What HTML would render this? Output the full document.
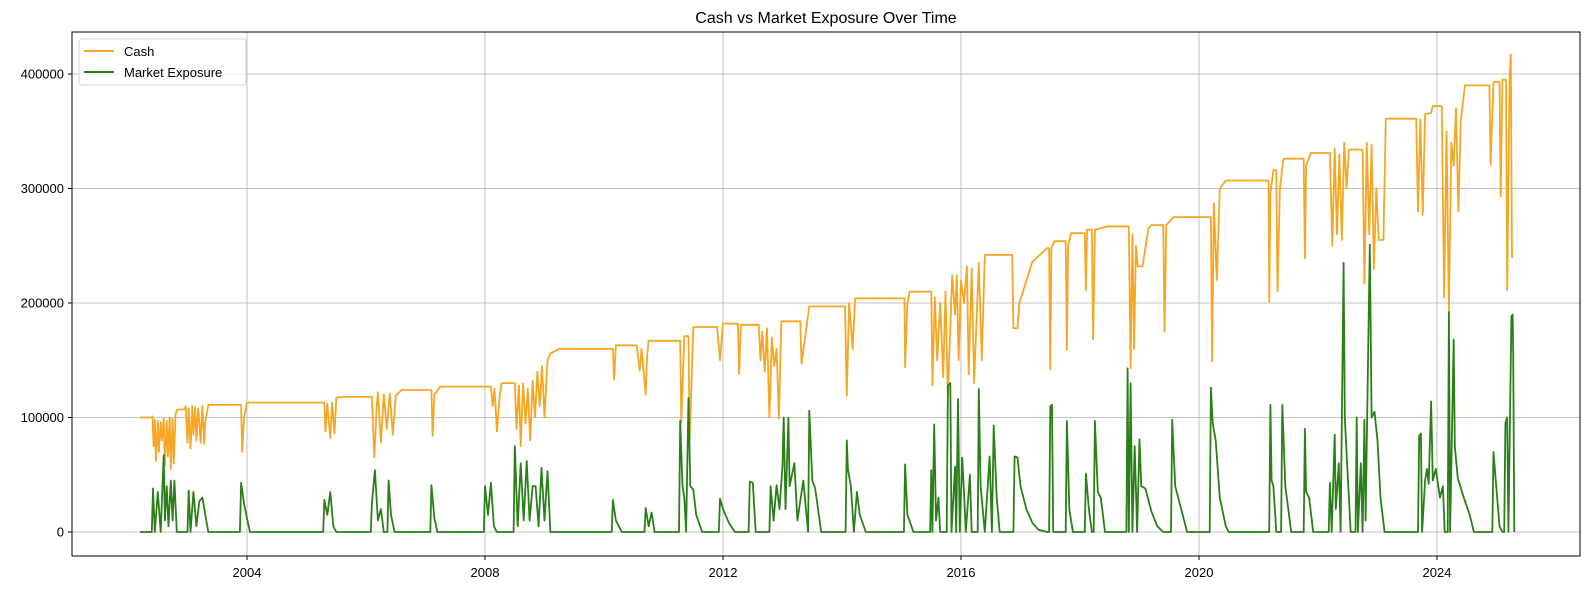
<!DOCTYPE html>
<html><head><meta charset="utf-8"><title>Cash vs Market Exposure Over Time</title>
<style>
html,body{margin:0;padding:0;background:#fff;}
svg{display:block;font-family:"Liberation Sans","DejaVu Sans",sans-serif;}
</style></head>
<body>
<svg id="chart" width="1589" height="590" viewBox="0 0 1589 590" xmlns="http://www.w3.org/2000/svg">
<rect x="0" y="0" width="1589" height="590" fill="#fff"/>
<text x="826" y="23" text-anchor="middle" font-size="16" fill="#000">Cash vs Market Exposure Over Time</text>
<g id="grid"></g>
<g id="series"></g>
<rect x="72" y="32" width="1508" height="524" fill="none" stroke="#000" stroke-width="1"/>
<g id="ticks"></g>
<g>
<rect x="79" y="39" width="167" height="46" rx="3" fill="#fff" fill-opacity="0.8" stroke="#d6d6d6"/>
<line x1="84" y1="51" x2="114" y2="51" stroke="#f5a623" stroke-width="2"/>
<text x="124" y="56" font-size="13">Cash</text>
<line x1="84" y1="72" x2="114" y2="72" stroke="#2a7f18" stroke-width="2"/>
<text x="124" y="77" font-size="13">Market Exposure</text>
</g>
</svg>
<script>
const xTicks = [2004, 2008, 2012, 2016, 2020, 2024];
const yTicks = [0, 100000, 200000, 300000, 400000];
// cash series: [year, value in thousands]
const cashSeries = [[2002.2,100],[2002.4,100],[2002.41,101],[2002.43,75],[2002.45,98],[2002.47,62],[2002.5,97],[2002.52,70],[2002.55,96],[2002.57,80],[2002.6,99],[2002.62,58],[2002.65,97],[2002.67,66],[2002.7,100],[2002.72,55],[2002.75,99],[2002.77,60],[2002.8,103],[2002.83,107],[2002.95,107],[2002.97,110],[2003.0,78],[2003.02,108],[2003.05,73],[2003.08,110],[2003.1,85],[2003.13,109],[2003.15,80],[2003.18,108],[2003.2,95],[2003.22,78],[2003.25,110],[2003.28,77],[2003.3,96],[2003.35,111],[2003.9,111],[2003.92,70],[2003.95,100],[2004.0,113],[2005.3,113],[2005.32,88],[2005.35,112],[2005.4,82],[2005.43,113],[2005.47,86],[2005.5,117],[2005.57,118],[2006.1,118],[2006.14,65],[2006.18,110],[2006.2,122],[2006.25,78],[2006.3,120],[2006.35,90],[2006.4,121],[2006.45,85],[2006.5,119],[2006.6,124],[2007.1,124],[2007.12,84],[2007.15,120],[2007.25,127],[2008.1,127],[2008.13,110],[2008.16,125],[2008.2,88],[2008.25,120],[2008.28,130],[2008.5,130],[2008.53,90],[2008.57,128],[2008.6,75],[2008.64,130],[2008.68,95],[2008.72,125],[2008.76,80],[2008.8,132],[2008.84,100],[2008.88,140],[2008.92,110],[2008.96,145],[2009.0,100],[2009.05,150],[2009.1,156],[2009.25,160],[2010.15,160],[2010.17,133],[2010.2,163],[2010.55,163],[2010.6,141],[2010.63,160],[2010.7,120],[2010.72,150],[2010.75,167],[2011.28,167],[2011.3,96],[2011.35,171],[2011.42,171],[2011.44,80],[2011.5,179],[2011.9,179],[2011.95,150],[2011.98,170],[2012.0,182],[2012.25,182],[2012.27,138],[2012.3,181],[2012.6,181],[2012.63,150],[2012.66,175],[2012.7,140],[2012.74,178],[2012.78,100],[2012.82,170],[2012.86,145],[2012.9,160],[2012.94,99],[2012.98,184],[2013.3,184],[2013.32,147],[2013.38,170],[2013.45,197],[2014.05,197],[2014.08,119],[2014.12,200],[2014.18,160],[2014.22,204],[2015.05,204],[2015.06,144],[2015.1,200],[2015.14,210],[2015.5,210],[2015.52,128],[2015.56,205],[2015.6,150],[2015.65,200],[2015.7,135],[2015.74,210],[2015.78,117],[2015.85,224],[2015.9,190],[2015.93,224],[2015.96,150],[2016.0,220],[2016.05,200],[2016.1,232],[2016.13,138],[2016.18,230],[2016.22,130],[2016.3,235],[2016.35,150],[2016.4,242],[2016.86,242],[2016.88,178],[2016.95,178],[2016.98,200],[2017.2,236],[2017.45,248],[2017.48,248],[2017.5,142],[2017.52,248],[2017.57,254],[2017.76,254],[2017.78,159],[2017.8,250],[2017.85,261],[2018.08,261],[2018.1,211],[2018.12,264],[2018.2,264],[2018.22,168],[2018.25,264],[2018.47,267],[2018.82,267],[2018.85,143],[2018.88,260],[2018.91,160],[2018.94,250],[2018.97,232],[2019.05,232],[2019.15,265],[2019.2,268],[2019.4,268],[2019.42,175],[2019.45,268],[2019.57,275],[2020.2,275],[2020.22,149],[2020.25,287],[2020.3,220],[2020.35,300],[2020.45,307],[2021.17,307],[2021.18,201],[2021.2,296],[2021.25,316],[2021.3,316],[2021.32,210],[2021.36,300],[2021.42,326],[2021.76,326],[2021.78,239],[2021.8,320],[2021.88,331],[2022.2,331],[2022.24,250],[2022.28,335],[2022.32,260],[2022.36,330],[2022.4,255],[2022.44,340],[2022.48,300],[2022.52,334],[2022.75,334],[2022.78,217],[2022.82,340],[2022.86,260],[2022.9,338],[2022.94,230],[2022.98,300],[2023.02,255],[2023.1,255],[2023.14,361],[2023.65,361],[2023.68,280],[2023.72,360],[2023.76,277],[2023.8,365],[2023.9,366],[2023.93,372],[2024.08,372],[2024.12,205],[2024.16,350],[2024.2,192],[2024.24,340],[2024.28,320],[2024.32,370],[2024.36,280],[2024.4,360],[2024.47,390],[2024.88,390],[2024.9,321],[2024.95,393],[2025.05,393],[2025.07,293],[2025.1,395],[2025.16,395],[2025.18,211],[2025.22,398],[2025.24,417],[2025.26,240],[2025.28,240]];
// market exposure series: [year, value in thousands]
const expSeries = [[2002.2,0],[2002.4,0],[2002.42,38],[2002.45,0],[2002.5,35],[2002.55,0],[2002.6,67],[2002.62,10],[2002.65,40],[2002.68,5],[2002.72,45],[2002.75,10],[2002.78,45],[2002.82,0],[2003.0,0],[2003.02,36],[2003.05,0],[2003.1,35],[2003.15,5],[2003.2,27],[2003.25,30],[2003.3,15],[2003.35,0],[2003.88,0],[2003.9,43],[2003.95,25],[2004.0,12],[2004.05,0],[2005.28,0],[2005.3,28],[2005.35,15],[2005.4,35],[2005.45,5],[2005.5,0],[2006.08,0],[2006.1,25],[2006.15,54],[2006.2,10],[2006.25,20],[2006.3,0],[2006.36,0],[2006.38,45],[2006.42,15],[2006.48,0],[2007.08,0],[2007.1,41],[2007.15,12],[2007.2,0],[2007.98,0],[2008.0,40],[2008.05,15],[2008.1,43],[2008.15,5],[2008.2,0],[2008.48,0],[2008.5,75],[2008.55,5],[2008.6,60],[2008.65,10],[2008.7,62],[2008.75,10],[2008.8,40],[2008.85,40],[2008.9,5],[2008.95,56],[2009.0,10],[2009.05,53],[2009.1,0],[2010.13,0],[2010.15,28],[2010.2,10],[2010.3,0],[2010.68,0],[2010.7,21],[2010.75,5],[2010.8,17],[2010.85,0],[2011.26,0],[2011.28,97],[2011.32,40],[2011.35,30],[2011.38,0],[2011.42,117],[2011.45,40],[2011.5,37],[2011.55,15],[2011.65,0],[2011.93,0],[2011.95,29],[2012.0,20],[2012.1,8],[2012.2,0],[2012.43,0],[2012.45,44],[2012.5,43],[2012.55,0],[2012.78,0],[2012.8,40],[2012.85,10],[2012.9,41],[2012.95,20],[2013.0,58],[2013.02,100],[2013.05,20],[2013.1,100],[2013.12,40],[2013.2,60],[2013.25,10],[2013.35,45],[2013.43,0],[2013.45,106],[2013.5,45],[2013.55,38],[2013.65,0],[2014.06,0],[2014.08,80],[2014.1,55],[2014.15,40],[2014.2,0],[2014.25,35],[2014.3,15],[2014.4,0],[2015.04,0],[2015.06,59],[2015.1,15],[2015.2,0],[2015.48,0],[2015.5,54],[2015.52,0],[2015.55,94],[2015.58,10],[2015.62,30],[2015.65,0],[2015.76,0],[2015.78,128],[2015.82,130],[2015.84,0],[2015.9,57],[2015.92,0],[2015.95,116],[2015.98,0],[2016.02,65],[2016.05,35],[2016.08,0],[2016.15,50],[2016.18,0],[2016.28,0],[2016.3,125],[2016.33,40],[2016.4,0],[2016.48,66],[2016.52,0],[2016.55,93],[2016.6,30],[2016.65,0],[2016.88,0],[2016.9,66],[2016.95,65],[2017.0,40],[2017.1,20],[2017.2,8],[2017.3,2],[2017.45,0],[2017.48,0],[2017.5,110],[2017.53,111],[2017.55,0],[2017.76,0],[2017.78,97],[2017.82,20],[2017.88,0],[2018.08,0],[2018.1,51],[2018.15,20],[2018.2,0],[2018.23,0],[2018.25,97],[2018.3,35],[2018.35,30],[2018.42,0],[2018.78,0],[2018.8,143],[2018.82,0],[2018.85,130],[2018.88,0],[2018.92,75],[2018.96,0],[2019.0,81],[2019.03,40],[2019.1,38],[2019.2,18],[2019.3,5],[2019.4,0],[2019.53,0],[2019.55,98],[2019.6,40],[2019.7,20],[2019.8,0],[2020.18,0],[2020.2,126],[2020.23,95],[2020.28,80],[2020.35,30],[2020.45,5],[2020.5,0],[2021.18,0],[2021.2,111],[2021.22,45],[2021.25,40],[2021.3,0],[2021.38,0],[2021.4,111],[2021.45,40],[2021.5,20],[2021.55,0],[2021.76,0],[2021.78,90],[2021.8,35],[2021.85,30],[2021.92,0],[2022.18,0],[2022.2,43],[2022.23,0],[2022.28,85],[2022.3,20],[2022.35,60],[2022.38,0],[2022.43,235],[2022.45,100],[2022.48,68],[2022.52,30],[2022.55,0],[2022.63,0],[2022.65,100],[2022.67,0],[2022.72,60],[2022.75,0],[2022.78,98],[2022.8,10],[2022.87,251],[2022.9,100],[2022.95,105],[2023.0,80],[2023.05,30],[2023.12,0],[2023.68,0],[2023.7,84],[2023.73,86],[2023.75,0],[2023.8,45],[2023.83,55],[2023.86,42],[2023.9,114],[2023.93,45],[2023.98,55],[2024.05,30],[2024.1,40],[2024.13,0],[2024.18,0],[2024.2,192],[2024.22,0],[2024.28,168],[2024.3,75],[2024.35,47],[2024.45,30],[2024.55,15],[2024.62,0],[2024.93,0],[2024.95,70],[2024.98,50],[2025.05,5],[2025.1,0],[2025.13,0],[2025.15,95],[2025.18,100],[2025.2,0],[2025.25,188],[2025.27,190],[2025.28,157],[2025.3,0]];

const NS = 'http://www.w3.org/2000/svg';
function xScale(yr){ return 247 + (yr - 2004) * 59.5; }
function yScale(v){ return 532 - v * 0.001145; }
const grid = document.getElementById('grid');
const ticks = document.getElementById('ticks');
const series = document.getElementById('series');

xTicks.forEach(function(t){
  const x = xScale(t);
  const g = document.createElementNS(NS,'line');
  g.setAttribute('x1',x); g.setAttribute('x2',x); g.setAttribute('y1',32); g.setAttribute('y2',556);
  g.setAttribute('stroke','#b0b0b0'); g.setAttribute('stroke-width','0.8');
  
  
  grid.appendChild(g);
  const tk = document.createElementNS(NS,'line');
  tk.setAttribute('x1',x); tk.setAttribute('x2',x); tk.setAttribute('y1',556); tk.setAttribute('y2',560);
  tk.setAttribute('stroke','#000');
  
  
  ticks.appendChild(tk);
  const lb = document.createElementNS(NS,'text');
  lb.setAttribute('x',x); lb.setAttribute('y',577); lb.setAttribute('text-anchor','middle'); lb.setAttribute('font-size','13');
  lb.textContent = String(t);
  
  
  ticks.appendChild(lb);
});
yTicks.forEach(function(t){
  const y = yScale(t);
  const g = document.createElementNS(NS,'line');
  g.setAttribute('x1',72); g.setAttribute('x2',1580); g.setAttribute('y1',y); g.setAttribute('y2',y);
  g.setAttribute('stroke','#b0b0b0'); g.setAttribute('stroke-width','0.8');
  
  
  grid.appendChild(g);
  const tk = document.createElementNS(NS,'line');
  tk.setAttribute('x1',68); tk.setAttribute('x2',72); tk.setAttribute('y1',y); tk.setAttribute('y2',y);
  tk.setAttribute('stroke','#000');
  
  
  ticks.appendChild(tk);
  const lb = document.createElementNS(NS,'text');
  lb.setAttribute('x',64); lb.setAttribute('y',y+4.5); lb.setAttribute('text-anchor','end'); lb.setAttribute('font-size','13');
  lb.textContent = String(t);
  
  
  ticks.appendChild(lb);
});

function pts(data){
  return data.map(function(d){ return xScale(d[0]).toFixed(1)+','+yScale(d[1]*1000).toFixed(1); }).join(' ');
}
const cashLine = document.createElementNS(NS,'polyline');
cashLine.setAttribute('points', pts(cashSeries));
cashLine.setAttribute('fill','none'); cashLine.setAttribute('stroke','#f5a623'); cashLine.setAttribute('stroke-width','1.8'); cashLine.setAttribute('stroke-linejoin','round');


series.appendChild(cashLine);
const expLine = document.createElementNS(NS,'polyline');
expLine.setAttribute('points', pts(expSeries));
expLine.setAttribute('fill','none'); expLine.setAttribute('stroke','#2a7f18'); expLine.setAttribute('stroke-width','1.8'); expLine.setAttribute('stroke-linejoin','round');


series.appendChild(expLine);
</script>
</body></html>
